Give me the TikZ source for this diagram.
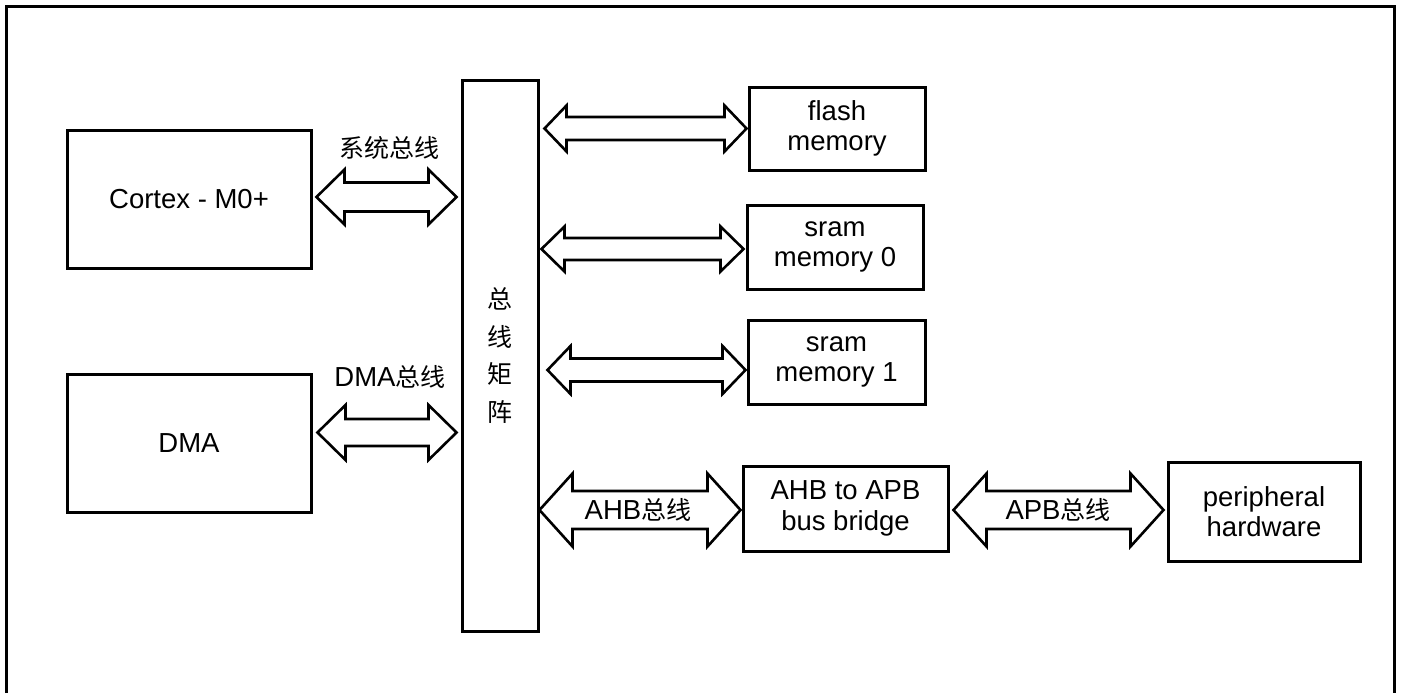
\documentclass[tikz,border=0pt]{standalone}
\usepackage{fontspec}
\setmainfont{Liberation Sans}
\newfontfamily\cjk{Noto Sans CJK SC}
\usetikzlibrary{calc}
\tikzset{
  blk/.style={draw=black, line width=3pt, fill=white, inner sep=0pt, align=center,
              font=\fontsize{27.5}{30.5}\selectfont},
  busln/.style={draw=black, line width=2.6pt, fill=white, line join=miter},
  lbl/.style={inner sep=0pt, font=\fontsize{25}{30}\selectfont}
}
% #1 left tip, #2 right tip (x only used), #3 head half-height, #4 shaft half-height, #5 head length
\newcommand\busarrow[5]{%
  \path[busln] let \p1=#1, \p2=#2 in
    (\x1,\y1) -- (\x1+#5pt,\y1+#3pt) -- (\x1+#5pt,\y1+#4pt) -- (\x2-#5pt,\y1+#4pt)
    -- (\x2-#5pt,\y1+#3pt) -- (\x2,\y1) -- (\x2-#5pt,\y1-#3pt) -- (\x2-#5pt,\y1-#4pt)
    -- (\x1+#5pt,\y1-#4pt) -- (\x1+#5pt,\y1-#3pt) -- cycle;}
\newcommand\latin{\fontsize{27.5}{30}\selectfont}
\newcommand\han{\cjk\fontsize{25}{30}\selectfont}
\begin{document}
\begin{tikzpicture}[x=1pt,y=-1pt]
\useasboundingbox (0,0) rectangle (1404,693);
\fill[white] (0,0) rectangle (1404,693);
\draw[line width=3pt] (6,693) -- (6,7) -- (1394,7) -- (1394,693);

\node[blk, minimum width=244pt, minimum height=138pt] (cortex) at (189,199) {Cortex - M0+};
\node[blk, minimum width=244pt, minimum height=138pt] (dma) at (189,443) {DMA};
\node[blk, minimum width=76pt, minimum height=551pt, font=\cjk\fontsize{25}{37.5}\selectfont] (bus) at (500,355.5) {总\\线\\矩\\阵};
\node[blk, minimum width=176pt, minimum height=83pt] (flash) at (837,128.5) {flash\\memory};
\node[blk, minimum width=176pt, minimum height=84pt] (sram0) at (835,247) {sram\\memory 0};
\node[blk, minimum width=177pt, minimum height=84pt] (sram1) at (836.5,362) {sram\\memory 1};
\node[blk, minimum width=205pt, minimum height=85pt] (bridge) at (845.5,508.5) {AHB to APB\\bus bridge};
\node[blk, minimum width=192pt, minimum height=99pt] (periph) at (1264,511.5) {peripheral\\hardware};

\busarrow{($(cortex.east)+(4,-2)$)}{($(bus.west)+(-4,0)$)}{27.5}{14.5}{28}
\busarrow{($(dma.east)+(5,-10.5)$)}{($(bus.west)+(-4,0)$)}{27.5}{13.5}{28}
\busarrow{($(bus.east |- flash.west)+(5,0)$)}{($(flash.west)+(-1,0)$)}{23}{11.5}{22}
\busarrow{($(bus.east |- sram0.west)+(2,2)$)}{($(sram0.west)+(-2,0)$)}{22.5}{11}{23}
\busarrow{($(bus.east |- sram1.west)+(8,8)$)}{($(sram1.west)+(-1,0)$)}{24}{11.5}{23}
\busarrow{($(bus.east |- bridge.west)+(0,1.5)$)}{($(bridge.west)+(-1,0)$)}{36.5}{19}{33}
\busarrow{($(bridge.east)+(4,1.5)$)}{($(periph.west)+(-3,0)$)}{36.5}{19}{33}

\node[lbl, font=\han] (lsys) at (389,148) {系统总线};
\node[lbl] (ldma) at (390,377) {\latin DMA{\han 总线}};
\node[lbl] (lahb) at (638,510) {\latin AHB{\han 总线}};
\node[lbl] (lapb) at (1058,510) {\latin APB{\han 总线}};
\end{tikzpicture}
\end{document}
